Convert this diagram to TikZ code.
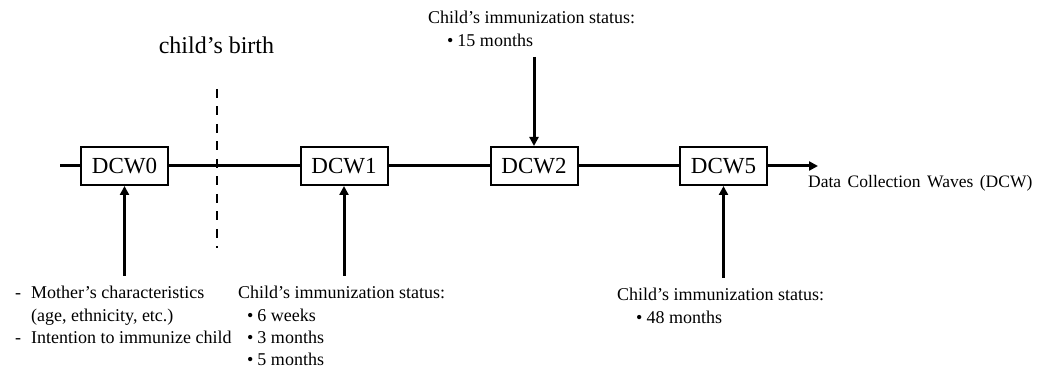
\documentclass[tikz,border=0pt]{standalone}
\usepackage{fontspec}
\setmainfont{Liberation Serif}
\usetikzlibrary{arrows.meta}
\begin{document}
\begin{tikzpicture}[x=1pt,y=-1pt,
 wave/.style={draw,line width=2pt,minimum width=87pt,minimum height=38pt,inner sep=0pt,font=\fontsize{23}{27}\selectfont},
 lbl/.style={font=\fontsize{18}{22.3}\selectfont,inner sep=0pt,anchor=base west},
 axis/.style={line width=3pt},
 up/.style={line width=3pt,-{Triangle[length=9pt,width=9pt]}},
 birth/.style={line width=2pt,dash pattern=on 9pt off 8.5pt},
]
\useasboundingbox (0,0) rectangle (1037,371);
% wave boxes
\node[wave] (d0) at (124.5,166) {DCW0};
\node[wave] (d1) at (344,166) {DCW1};
\node[wave] (d2) at (534,166) {DCW2};
\node[wave] (d5) at (723.5,166) {DCW5};
\coordinate (start) at (60,166);
\coordinate (end) at (818,166);
\draw[axis] (start) -- (d0.west);
\draw[axis] (d0.east) -- (d1.west);
\draw[axis] (d1.east) -- (d2.west);
\draw[axis] (d2.east) -- (d5.west);
\draw[axis,-{Triangle[length=9pt,width=9pt]}] (d5.east) -- (end);
\node[lbl,font=\fontsize{17.5}{20}\selectfont,anchor=west] (dcw) at (808,183) {Data\hspace{6.5pt}Collection\hspace{6.5pt}Waves\hspace{6.5pt}(DCW)};
% birth
\node[inner sep=0pt,font=\fontsize{24}{28}\selectfont] (birthlbl) at (216.5,45) {child’s birth};
\coordinate (b1) at (217,89);
\coordinate (b2) at (217,248);
\draw[birth] (b1) -- (b2);
% labels
\node[lbl] (m0) at (15,299) {\begin{tabular}[t]{@{}l@{\hspace{10pt}}l@{}}-&Mother’s characteristics\\ &(age, ethnicity, etc.)\\ -&Intention to immunize child\end{tabular}};
\node[lbl] (m1) at (238,299) {\begin{tabular}[t]{@{}l@{}}Child’s immunization status:\\ \hspace{9pt}\textbullet\hspace{4pt}6 weeks\\ \hspace{9pt}\textbullet\hspace{4pt}3 months\\ \hspace{9pt}\textbullet\hspace{4pt}5 months\end{tabular}};
\node[lbl] (m2) at (428,24) {\begin{tabular}[t]{@{}l@{}}Child’s immunization status:\\ \hspace{19pt}\textbullet\hspace{4pt}15 months\end{tabular}};
\node[lbl] (m5) at (617,301) {\begin{tabular}[t]{@{}l@{}}Child’s immunization status:\\ \hspace{19pt}\textbullet\hspace{4pt}48 months\end{tabular}};
% arrows
\coordinate (t0) at (124.5,276);
\coordinate (t1) at (344,276);
\coordinate (t2) at (534,57);
\coordinate (t5) at (723.5,278);
\draw[up] (t0) -- (d0.south);
\draw[up] (t1) -- (d1.south);
\draw[up] (t2) -- (d2.north);
\draw[up] (t5) -- (d5.south);
\end{tikzpicture}
\end{document}
